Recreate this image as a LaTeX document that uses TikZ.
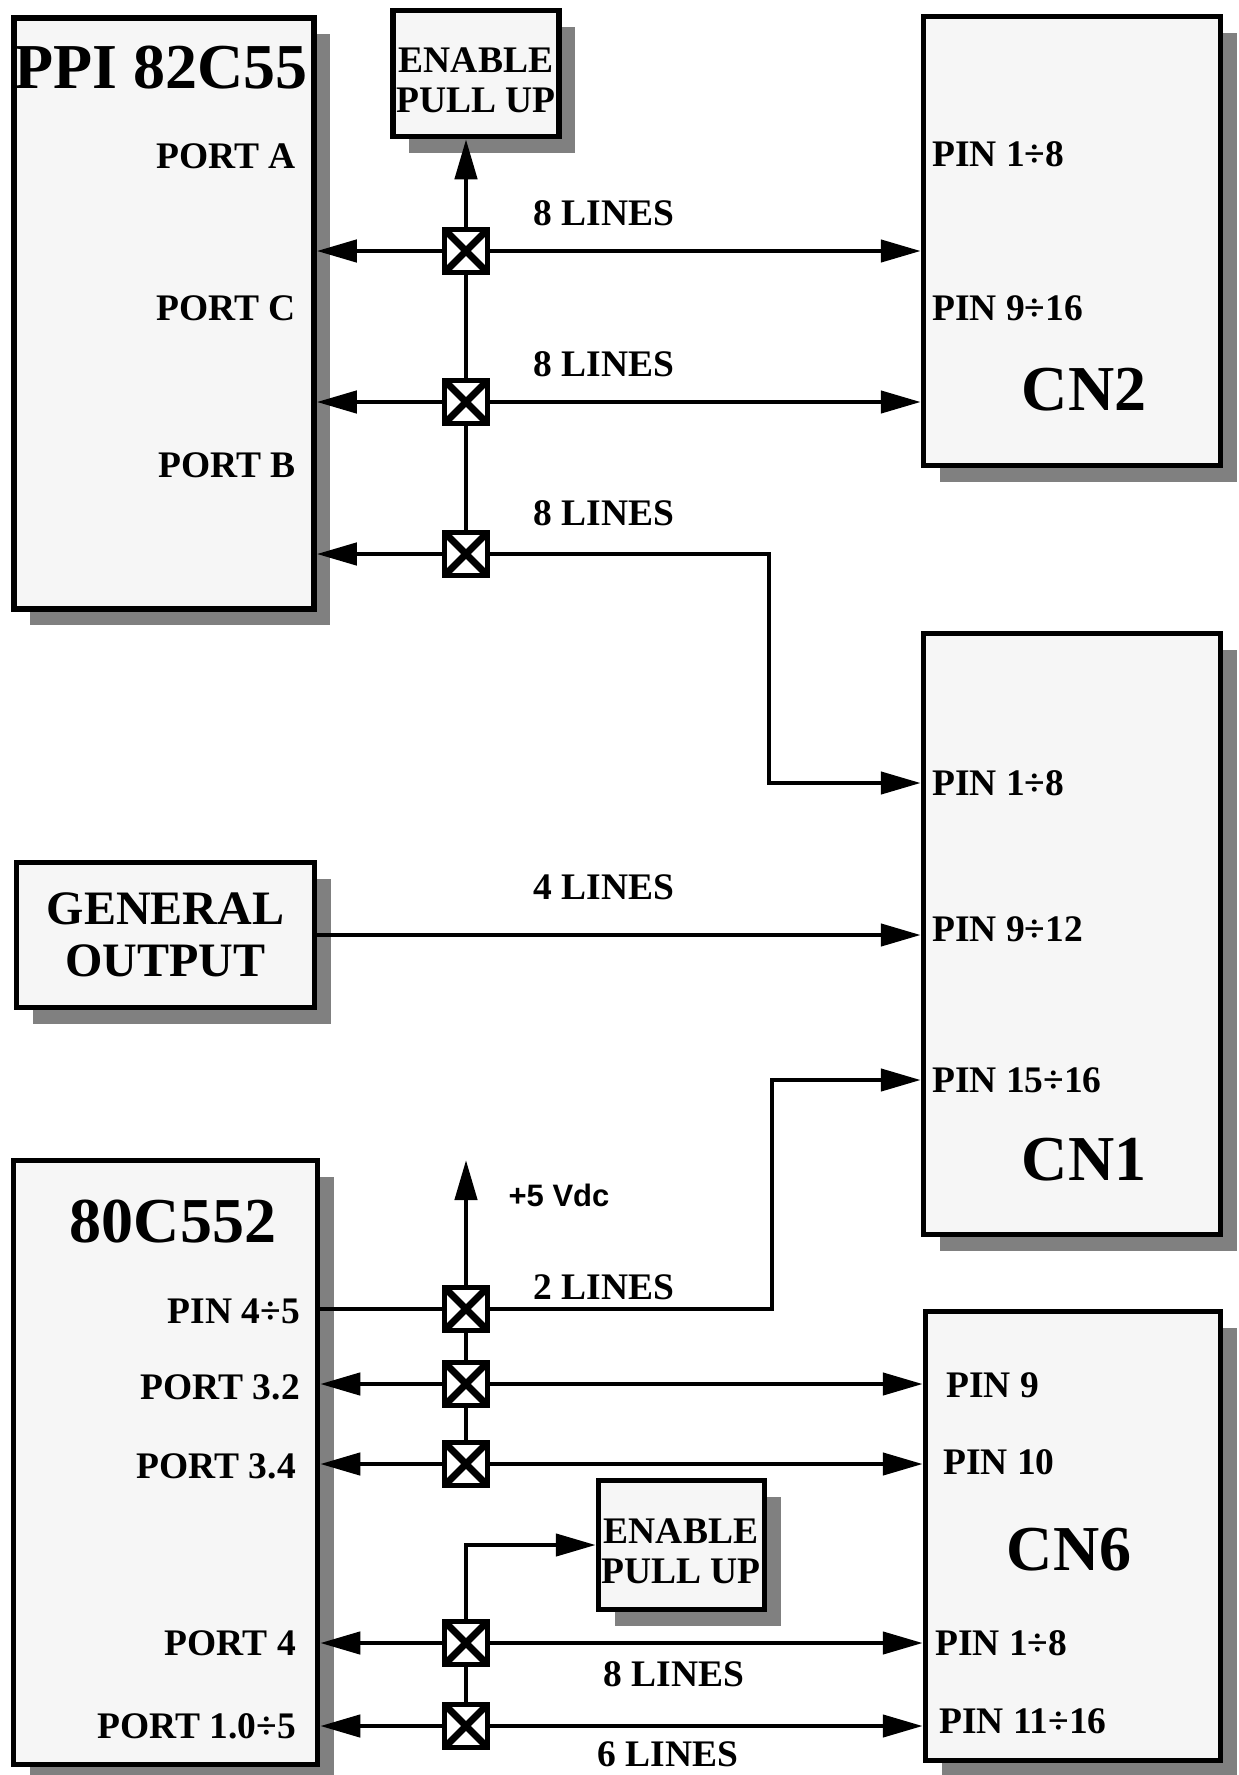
\documentclass[tikz,border=0pt]{standalone}
\usepackage{fontspec}
\setmainfont{Liberation Serif}
\newfontfamily\vccfont{Liberation Sans}
\usepackage{tikz}
\usetikzlibrary{positioning,arrows.meta,shadows}
\definecolor{blkfill}{HTML}{F6F6F6}
\definecolor{blkshadow}{HTML}{808080}

\begin{document}
\begin{tikzpicture}[x=1pt,y=-1pt,
  blk/.style={draw,line width=5.5pt,fill=blkfill,inner sep=0pt,align=center,
    font=\fontsize{38}{40}\selectfont\bfseries,
    drop shadow={shadow xshift=16pt,shadow yshift=-16pt,fill=blkshadow,opacity=1}},
  xbox/.style={draw,line width=5pt,fill=white,minimum size=43pt,inner sep=0pt,
    path picture={\draw[line width=7pt]
      (path picture bounding box.north west) -- (path picture bounding box.south east)
      (path picture bounding box.north east) -- (path picture bounding box.south west);}},
  wire/.style={line width=4.5pt},
  arr/.style={wire,-{Triangle[length=40pt,width=22pt]}},
  pinlbl/.style={font=\fontsize{37.5}{40}\selectfont\bfseries,inner sep=0pt},
  cntlbl/.style={font=\fontsize{37.5}{40}\selectfont\bfseries,inner sep=0pt},
  chiptitle/.style={font=\fontsize{64}{70}\selectfont\bfseries,inner sep=0pt}
]
\useasboundingbox (0,0) rectangle (1239,1775);

% blocks
\node[blk,minimum width=300pt,minimum height=591pt] (ppi) at (164,313.5) {};
\node[blk,minimum width=166pt,minimum height=126pt] (pullA) at (476,73.5) {};
\node[blk,minimum width=297pt,minimum height=449pt] (cn2) at (1072,241) {};
\node[blk,minimum width=297pt,minimum height=601pt] (cn1) at (1072,934) {};
\node[blk,minimum width=298pt,minimum height=145pt,font=\fontsize{48}{52}\selectfont\bfseries] (genout) at (165.5,935) {GENERAL\\OUTPUT};
\node[blk,minimum width=304pt,minimum height=604pt] (mcu) at (165.5,1462.5) {};
\node[blk,minimum width=166pt,minimum height=129pt] (pullB) at (681.5,1545) {};
\node[blk,minimum width=295pt,minimum height=449pt] (cn6) at (1073,1536) {};

% texts inside the blocks
\node[cntlbl,align=center] (pullAtxt) at (476,80) {ENABLE\\PULL UP};
\node[cntlbl,align=center] (pullBtxt) at (681,1551) {ENABLE\\PULL UP};
\node[chiptitle] (ppiname) at (161,68) {PPI 82C55};
\node[pinlbl,anchor=east] (porta) at (296,156) {PORT A};
\node[pinlbl,anchor=east] (portc) at (296,308) {PORT C};
\node[pinlbl,anchor=east] (portb) at (296,465) {PORT B};
\node[chiptitle] (cn2name) at (1084,390) {CN2};
\node[pinlbl,anchor=west] (cn2pa) at (932,154) {PIN 1÷8};
\node[pinlbl,anchor=west] (cn2pb) at (932,308) {PIN 9÷16};
\node[chiptitle] (cn1name) at (1084,1160) {CN1};
\node[pinlbl,anchor=west] (cn1pa) at (932,783) {PIN 1÷8};
\node[pinlbl,anchor=west] (cn1pb) at (932,929) {PIN 9÷12};
\node[pinlbl,anchor=west] (cn1pc) at (932,1080) {PIN 15÷16};
\node[chiptitle] (mcuname) at (173,1222) {80C552};
\node[pinlbl,anchor=east] (mcupin) at (300,1311) {PIN 4÷5};
\node[pinlbl,anchor=east] (port32) at (300,1387) {PORT 3.2};
\node[pinlbl,anchor=east] (port34) at (296,1466) {PORT 3.4};
\node[pinlbl,anchor=east] (port4) at (296,1643) {PORT 4};
\node[pinlbl,anchor=east] (port10) at (296,1726) {PORT 1.0÷5};
\node[chiptitle] (cn6name) at (1069,1550) {CN6};
\node[pinlbl,anchor=west] (cn6pa) at (946,1385) {PIN 9};
\node[pinlbl,anchor=west] (cn6pb) at (943,1462) {PIN 10};
\node[pinlbl,anchor=west] (cn6pc) at (935,1643) {PIN 1÷8};
\node[pinlbl,anchor=west] (cn6pd) at (939,1721) {PIN 11÷16};

% crossed boxes on the buses
\node[xbox] (xa) at (466,251) {};
\node[xbox] (xc) at (466,402) {};
\node[xbox] (xb) at (466,554) {};
\node[xbox] (x45) at (466,1309) {};
\node[xbox] (x32) at (466,1384) {};
\node[xbox] (x34) at (466,1464) {};
\node[xbox] (x4) at (466,1643) {};
\node[xbox] (x10) at (466,1726) {};

\coordinate (bendb) at (769,783);
\coordinate (bend45) at (772,1080);
\coordinate (vcc) at (466,1160);

% upper bus
\draw[arr] (xa) -- (xa |- pullA.south);
\draw[wire] (xa) -- (xc);
\draw[wire] (xc) -- (xb);
\draw[arr] (xa) -- (xa -| ppi.east);
\draw[arr] (xa) -- (xa -| cn2.west);
\draw[arr] (xc) -- (xc -| ppi.east);
\draw[arr] (xc) -- (xc -| cn2.west);
\draw[arr] (xb) -- (xb -| ppi.east);
\draw[arr] (xb) -| (bendb) -- (bendb -| cn1.west);
\node[cntlbl] (la) at (604,213) {8 LINES};
\node[cntlbl] (lc) at (604,364) {8 LINES};
\node[cntlbl] (lb) at (604,513) {8 LINES};

% general output
\draw[arr] (genout.east) -- (genout.east -| cn1.west);
\node[cntlbl] (lg) at (604,887) {4 LINES};

% lower bus
\draw[arr] (x45) -- (vcc);
\node[inner sep=0pt,font=\vccfont\fontsize{31}{34}\selectfont\bfseries] (vcclbl) at (559,1195) {+5 Vdc};
\draw[wire] (x45) -- (x32);
\draw[wire] (x32) -- (x34);
\draw[wire] (x45) -- (x45 -| mcu.east);
\draw[arr] (x45) -| (bend45) -- (bend45 -| cn1.west);
\node[cntlbl] (l45) at (604,1287) {2 LINES};
\draw[arr] (x32) -- (x32 -| mcu.east);
\draw[arr] (x32) -- (x32 -| cn6.west);
\draw[arr] (x34) -- (x34 -| mcu.east);
\draw[arr] (x34) -- (x34 -| cn6.west);
\draw[wire] (x4) -- (x10);
\draw[arr] (x4) |- (pullB);
\draw[arr] (x4) -- (x4 -| mcu.east);
\draw[arr] (x4) -- (x4 -| cn6.west);
\draw[arr] (x10) -- (x10 -| mcu.east);
\draw[arr] (x10) -- (x10 -| cn6.west);
\node[cntlbl] (l4) at (674,1674) {8 LINES};
\node[cntlbl] (l10) at (668,1754) {6 LINES};
\end{tikzpicture}
\end{document}
